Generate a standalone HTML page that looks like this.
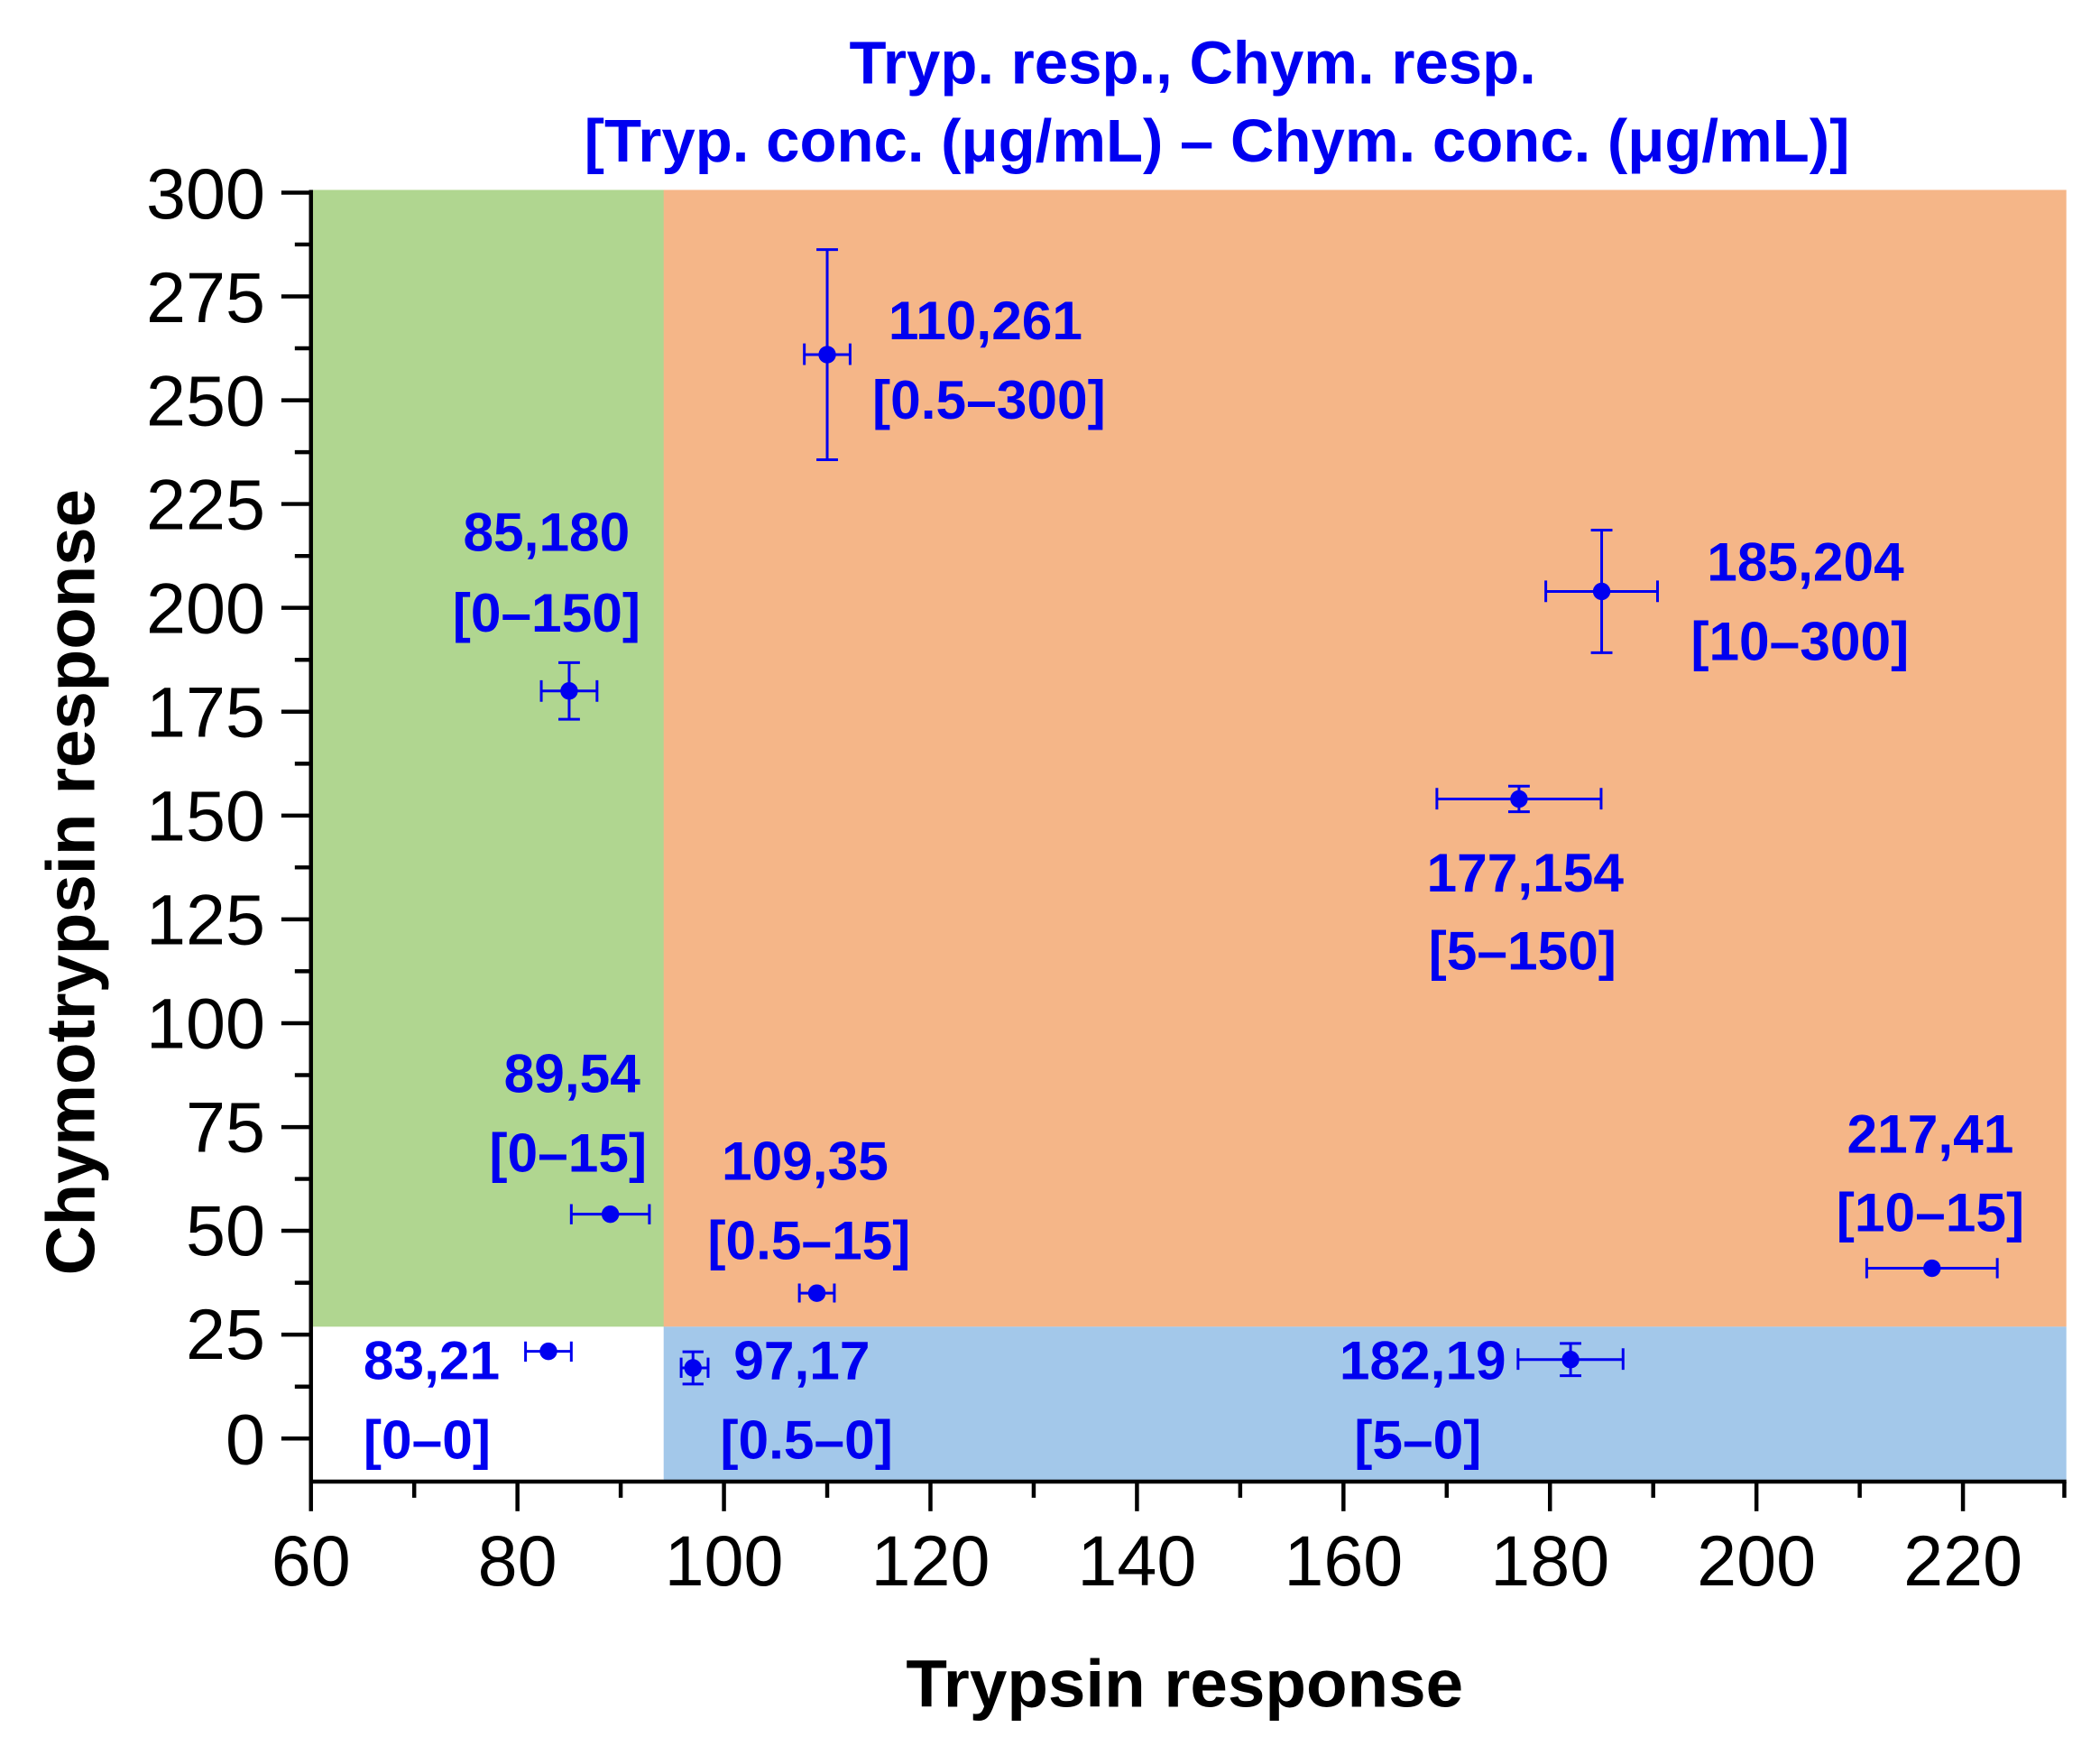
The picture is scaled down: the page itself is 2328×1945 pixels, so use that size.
<!DOCTYPE html>
<html><head><meta charset="utf-8"><style>
html,body{margin:0;padding:0;background:#fff;}
svg{display:block;}
text{font-family:"Liberation Sans",Arial,sans-serif;}
.t{font-size:53px;fill:#000;}
.b{font-size:40.5px;font-weight:bold;fill:#0000f0;}
.h{font-size:45px;font-weight:bold;fill:#0000f0;}
</style></head><body>
<svg width="2328" height="1945" viewBox="0 0 1560 1303" preserveAspectRatio="none" xmlns="http://www.w3.org/2000/svg">
<rect x="231" y="141" width="263" height="844" fill="#b0d690"/>
<rect x="493" y="141" width="1042" height="844" fill="#f5b688"/>
<rect x="493" y="985" width="1042" height="114" fill="#a3c8ea"/>
<g stroke="#000" stroke-width="3">
<line x1="231" y1="141" x2="231" y2="1101"/>
<line x1="230" y1="1100" x2="1535" y2="1100"/>
<line x1="209" y1="143" x2="231" y2="143"/><line x1="209" y1="220.1" x2="231" y2="220.1"/>
<line x1="209" y1="297.2" x2="231" y2="297.2"/><line x1="209" y1="374.2" x2="231" y2="374.2"/>
<line x1="209" y1="451.3" x2="231" y2="451.3"/><line x1="209" y1="528.4" x2="231" y2="528.4"/>
<line x1="209" y1="605.5" x2="231" y2="605.5"/><line x1="209" y1="682.6" x2="231" y2="682.6"/>
<line x1="209" y1="759.7" x2="231" y2="759.7"/><line x1="209" y1="836.8" x2="231" y2="836.8"/>
<line x1="209" y1="913.8" x2="231" y2="913.8"/><line x1="209" y1="990.9" x2="231" y2="990.9"/>
<line x1="209" y1="1068" x2="231" y2="1068"/>
<line x1="219" y1="181.5" x2="231" y2="181.5"/><line x1="219" y1="258.6" x2="231" y2="258.6"/>
<line x1="219" y1="335.7" x2="231" y2="335.7"/><line x1="219" y1="412.8" x2="231" y2="412.8"/>
<line x1="219" y1="489.9" x2="231" y2="489.9"/><line x1="219" y1="567" x2="231" y2="567"/>
<line x1="219" y1="644" x2="231" y2="644"/><line x1="219" y1="721.1" x2="231" y2="721.1"/>
<line x1="219" y1="798.2" x2="231" y2="798.2"/><line x1="219" y1="875.3" x2="231" y2="875.3"/>
<line x1="219" y1="952.4" x2="231" y2="952.4"/><line x1="219" y1="1029.5" x2="231" y2="1029.5"/>
<line x1="231" y1="1100" x2="231" y2="1122"/><line x1="384.4" y1="1100" x2="384.4" y2="1122"/>
<line x1="537.8" y1="1100" x2="537.8" y2="1122"/><line x1="691.2" y1="1100" x2="691.2" y2="1122"/>
<line x1="844.6" y1="1100" x2="844.6" y2="1122"/><line x1="998" y1="1100" x2="998" y2="1122"/>
<line x1="1151.4" y1="1100" x2="1151.4" y2="1122"/><line x1="1304.8" y1="1100" x2="1304.8" y2="1122"/>
<line x1="1458.2" y1="1100" x2="1458.2" y2="1122"/>
<line x1="307.7" y1="1100" x2="307.7" y2="1112"/><line x1="461.1" y1="1100" x2="461.1" y2="1112"/>
<line x1="614.5" y1="1100" x2="614.5" y2="1112"/><line x1="767.9" y1="1100" x2="767.9" y2="1112"/>
<line x1="921.3" y1="1100" x2="921.3" y2="1112"/><line x1="1074.7" y1="1100" x2="1074.7" y2="1112"/>
<line x1="1228.1" y1="1100" x2="1228.1" y2="1112"/><line x1="1381.5" y1="1100" x2="1381.5" y2="1112"/>
<line x1="1533.5" y1="1100" x2="1533.5" y2="1112"/>
</g>
<g class="t" text-anchor="end">
<text x="197" y="162">300</text><text x="197" y="239">275</text><text x="197" y="316">250</text>
<text x="197" y="393">225</text><text x="197" y="470">200</text><text x="197" y="547">175</text>
<text x="197" y="624">150</text><text x="197" y="701">125</text><text x="197" y="778">100</text>
<text x="197" y="855">75</text><text x="197" y="932">50</text><text x="197" y="1009">25</text>
<text x="197" y="1087">0</text>
</g>
<g class="t" text-anchor="middle">
<text x="231" y="1177">60</text><text x="384.4" y="1177">80</text><text x="537.8" y="1177">100</text>
<text x="691.2" y="1177">120</text><text x="844.6" y="1177">140</text><text x="998" y="1177">160</text>
<text x="1151.4" y="1177">180</text><text x="1304.8" y="1177">200</text><text x="1458.2" y="1177">220</text>
</g>
<text x="880" y="1267" text-anchor="middle" style="font-size:50px;font-weight:bold">Trypsin response</text>
<text transform="translate(70,655) rotate(-90)" text-anchor="middle" style="font-size:51px;font-weight:bold">Chymotrypsin response</text>
<text x="886" y="62" text-anchor="middle" class="h">Tryp. resp., Chym. resp.</text>
<text x="904" y="120" text-anchor="middle" class="h">[Tryp. conc. (μg/mL) – Chym. conc. (μg/mL)]</text>
<g stroke="#0000f0" stroke-width="2" fill="none">
<path d="M402.1 513H443.5M402.1 505V521M443.5 505V521M422.8 492V534M414.8 492H430.8M414.8 534H430.8"/>
<path d="M597.5 263.3H631.5M597.5 255V271M631.5 255V271M614.5 185.3V341.3M606.5 185.3H622.5M606.5 341.3H622.5"/>
<path d="M1148.3 439.1H1231.3M1148.3 431V447M1231.3 431V447M1189.8 393.6V484.6M1181.8 393.6H1197.8M1181.8 484.6H1197.8"/>
<path d="M1067.4 593.2H1189.4M1067.4 585V601M1189.4 585V601M1128.4 583.7V602.7M1120.4 583.7H1136.4M1120.4 602.7H1136.4"/>
<path d="M1386.7 941.6H1483.7M1386.7 934V949M1483.7 934V949M1435.2 937.6V945.6"/>
<path d="M424.4 901.5H482.4M424.4 894V909M482.4 894V909M453.4 896.5V906.5"/>
<path d="M593.8 960.1H619.8M593.8 953V967M619.8 953V967M606.8 955.1V965.1"/>
<path d="M390.4 1003.3H424.4M390.4 996V1011M424.4 996V1011M407.4 998.3V1008.3"/>
<path d="M506 1015.6H526M506 1008V1023M526 1008V1023M514.8 1003.6V1027.6M507 1003.6H522.6M507 1027.6H522.6"/>
<path d="M1127.7 1009.4H1205.7M1127.7 1001V1017M1205.7 1001V1017M1166.7 997.4V1021.4M1158.7 997.4H1174.7M1158.7 1021.4H1174.7"/>
</g>
<g fill="#0000f0">
<circle cx="422.8" cy="513" r="6.5"/><circle cx="614.5" cy="263.3" r="6.5"/><circle cx="1189.8" cy="439.1" r="6.5"/>
<circle cx="1128.4" cy="593.2" r="6.5"/><circle cx="1435.2" cy="941.6" r="6.5"/><circle cx="453.4" cy="901.5" r="6.5"/>
<circle cx="606.8" cy="960.1" r="6.5"/><circle cx="407.4" cy="1003.3" r="6.5"/><circle cx="514.8" cy="1015.6" r="6.5"/>
<circle cx="1166.7" cy="1009.4" r="6.5"/>
</g>
<g class="b" text-anchor="middle">
<text x="406" y="409">85,180</text><text x="406" y="469">[0–150]</text>
<text x="1133" y="662">177,154</text><text x="1131" y="720">[5–150]</text>
<text x="425" y="811">89,54</text><text x="422" y="870">[0–15]</text>
<text x="598" y="876">109,35</text><text x="601" y="935">[0.5–15]</text>
<text x="1434" y="856">217,41</text><text x="1434" y="914">[10–15]</text>
</g>
<g class="b">
<text x="660" y="252">110,261</text><text x="648" y="311">[0.5–300]</text>
<text x="1268" y="431">185,204</text><text x="1256" y="490">[10–300]</text>
<text x="270" y="1024">83,21</text><text x="270" y="1083">[0–0]</text>
<text x="545" y="1024">97,17</text><text x="535" y="1083">[0.5–0]</text>
<text x="995" y="1024">182,19</text><text x="1006" y="1083">[5–0]</text>
</g>
</svg>
</body></html>
